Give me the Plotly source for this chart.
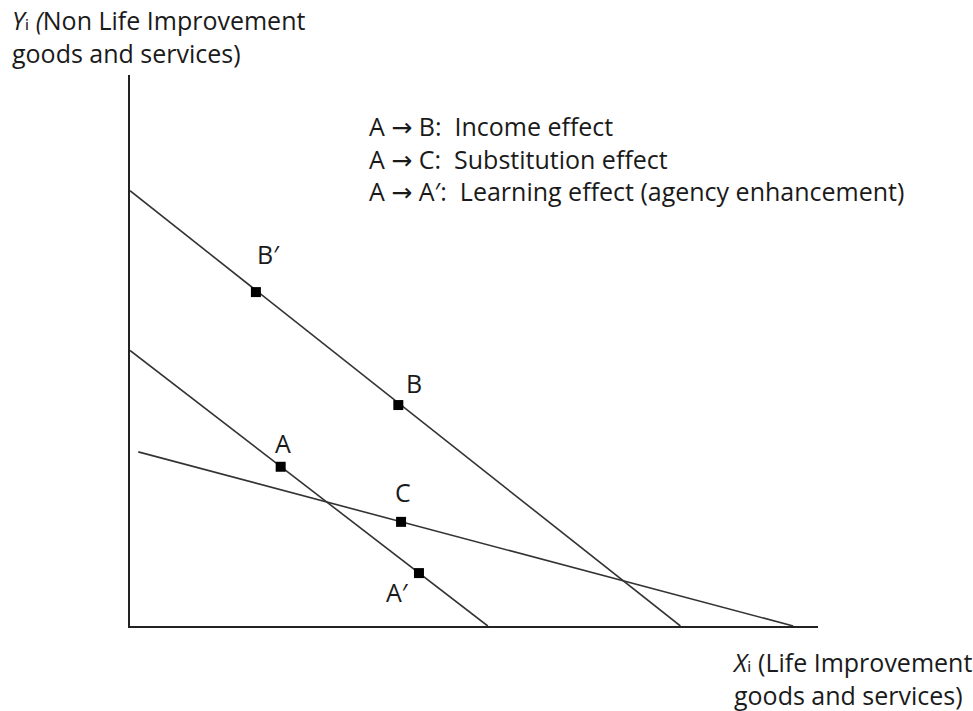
import plotly.graph_objects as go

# Budget lines (conceptual units; axis origin at 0,0)
line1_x = [0.0, 5.2]
line1_y = [5.0, 0.0]
line2_x = [0.0, 8.0]
line2_y = [7.9, 0.0]
line3_x = [0.12, 9.64]
line3_y = [3.16, 0.0]

# Labelled points
pt_names = ["B\u2032", "B", "A", "C", "A\u2032"]
pt_x = [1.83, 3.90, 2.19, 3.94, 4.20]
pt_y = [6.06, 4.01, 2.89, 1.89, 0.96]
lbl_dx = [13, 16, 2, 2, -21]
lbl_dy = [38, 22, 24, 30, -19]

ARROW = "<span style='font-family:DejaVu Sans'>\u2192</span>"
SUB_I = "<span style='font-family:DejaVu Sans'>\u1d62</span>"
legend_lines = [
    "A " + ARROW + " B:  Income effect",
    "A " + ARROW + " C:  Substitution effect",
    "A " + ARROW + " A\u2032:  Learning effect (agency enhancement)",
]
y_title = ["<i>Y</i>" + SUB_I + "<i> (</i>Non Life Improvement", "goods and services)"]
x_title = ["<i>X</i>" + SUB_I + " (Life Improvement", "goods and services)"]

FONT = "Open Sans"
FS = 25
TXT = "#1a1a1a"
LINE = "#333333"

fig = go.Figure()
for xs, ys in [(line1_x, line1_y), (line2_x, line2_y), (line3_x, line3_y)]:
    fig.add_trace(go.Scatter(x=xs, y=ys, mode="lines",
                             line=dict(color=LINE, width=1.6),
                             hoverinfo="skip", showlegend=False, cliponaxis=False))

fig.add_trace(go.Scatter(x=pt_x, y=pt_y, mode="markers",
                         marker=dict(symbol="square", size=10, color="black"),
                         showlegend=False, cliponaxis=False))

font = dict(family=FONT, size=FS, color=TXT)
anns = []
for n, x, y, dx, dy in zip(pt_names, pt_x, pt_y, lbl_dx, lbl_dy):
    anns.append(dict(x=x, y=y, xref="x", yref="y", text=n, showarrow=False,
                     xshift=dx, yshift=dy, font=font))

anns += [
    dict(x=0.3445, y=0.849, xref="paper", yref="paper", text="<br>".join(legend_lines),
         showarrow=False, xanchor="left", yanchor="middle", align="left", font=font),
    dict(x=-0.1744, y=1.0699, xref="paper", yref="paper", text="<br>".join(y_title),
         showarrow=False, xanchor="left", yanchor="middle", align="left", font=font),
    dict(x=0.872, y=-0.0944, xref="paper", yref="paper", text="<br>".join(x_title),
         showarrow=False, xanchor="left", yanchor="middle", align="left", font=font),
]

fig.update_layout(
    width=973, height=711,
    margin=dict(l=130, r=155, t=75, b=85),
    paper_bgcolor="white", plot_bgcolor="white",
    annotations=anns,
    xaxis=dict(range=[0, 10], showgrid=False, zeroline=False, showticklabels=False,
               ticks="", showline=True, linecolor="#222222", linewidth=2, fixedrange=True),
    yaxis=dict(range=[0, 10], showgrid=False, zeroline=False, showticklabels=False,
               ticks="", showline=True, linecolor="#222222", linewidth=2, fixedrange=True),
)

fig.write_html("out.html", config={"displayModeBar": False},
               post_script="document.body.style.margin='0';document.body.style.overflow='hidden';")
